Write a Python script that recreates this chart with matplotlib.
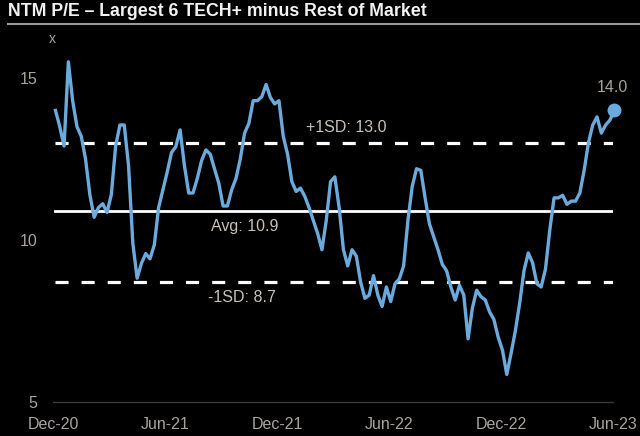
import matplotlib
matplotlib.use("Agg")
import matplotlib.pyplot as plt
import matplotlib.lines as mlines
import pandas as pd

# weekly NTM P/E spread, largest 6 tech+ minus rest of market
start_date = "2020-12-05"
pe_spread = [
    14.0, 13.5, 12.9, 15.5, 14.3, 13.5, 13.2, 12.5, 11.4, 10.7,
    11.0, 11.12, 10.85, 11.4, 12.9, 13.55, 13.55, 12.3, 9.9, 8.82,
    9.28, 9.58, 9.42, 9.85, 11.0, 11.55, 12.1, 12.7, 12.88, 13.4,
    12.3, 11.45, 11.45, 11.9, 12.45, 12.78, 12.65, 12.2, 11.75, 11.05,
    11.05, 11.55, 11.9, 12.5, 13.3, 13.6, 14.3, 14.3, 14.42, 14.8,
    14.4, 14.2, 14.3, 13.2, 12.65, 11.8, 11.5, 11.6, 11.35, 11.0,
    10.6, 10.2, 9.7, 10.6, 11.8, 11.95, 11.0, 9.7, 9.2, 9.7,
    9.5, 8.7, 8.2, 8.3, 8.9, 8.3, 7.95, 8.55, 8.1, 8.65,
    8.8, 9.2, 10.6, 11.65, 12.2, 12.15, 11.3, 10.5, 10.1, 9.7,
    9.25, 9.05, 8.55, 8.15, 8.6, 8.3, 6.95, 7.9, 8.45, 8.25,
    8.15, 7.78, 7.55, 7.0, 6.6, 5.85, 6.5, 7.2, 8.05, 9.05,
    9.6, 9.3, 8.65, 8.55, 9.1, 10.3, 11.3, 11.3, 11.38, 11.1,
    11.2, 11.2, 11.45, 12.15, 13.0, 13.55, 13.8, 13.3, 13.55, 13.7,
    14.0,
]
avg_val = 10.9
plus_sd = 13.0
minus_sd = 8.7
tick_dates = ["2020-12-01", "2021-06-01", "2021-12-01", "2022-06-01", "2022-12-01", "2023-06-01"]
tick_labels = ["Dec-20", "Jun-21", "Dec-21", "Jun-22", "Dec-22", "Jun-23"]
y_ticks = [5, 10, 15]

dates = pd.date_range(start=start_date, periods=len(pe_spread), freq="7D")
tick_pos = pd.to_datetime(tick_dates)

plt.rcParams["font.family"] = ["Liberation Sans", "DejaVu Sans"]
plt.rcParams["lines.scale_dashes"] = False

bg = "black"
line_blue = "#6aaadc"
tick_col = "#aaa39b"
note_col = "#c9c1b8"

fig = plt.figure(figsize=(6.4, 4.36), dpi=100, facecolor=bg)
ax = fig.add_axes([53 / 640, 34 / 436, 560 / 640, 356.4 / 436], facecolor=bg)

# reference lines
x0, x1 = dates[0], dates[-1]
ax.plot([x0, x1], [plus_sd, plus_sd], color="white", lw=2.3, dashes=(9.4, 9.4))
ax.plot([x0, x1], [minus_sd, minus_sd], color="white", lw=2.3, dashes=(9.4, 9.4))
ax.plot([x0, x1], [avg_val, avg_val], color="white", lw=2.0)

ax.plot(dates, pe_spread, color=line_blue, lw=2.4, zorder=3, clip_on=False)
ax.plot(dates[-1], pe_spread[-1], "o", color=line_blue, ms=9, zorder=4, clip_on=False)

ax.set_xlim(tick_pos[0], tick_pos[-1])
ax.set_ylim(5, 16)
ax.set_xticks(tick_pos)
ax.set_xticklabels(tick_labels)
ax.set_yticks(y_ticks)
ax.tick_params(axis="both", length=0, colors=tick_col, labelsize=11.5)
ax.tick_params(axis="x", pad=11)
ax.tick_params(axis="y", pad=11.5)
for s in ["top", "right", "left"]:
    ax.spines[s].set_visible(False)
ax.spines["bottom"].set_color("#3a3a3a")
ax.spines["bottom"].set_linewidth(1)

# labels on lines
ax.text(0.523, plus_sd + 0.25, "+1SD: 13.0", transform=ax.get_yaxis_transform(),
        color=note_col, fontsize=11.5, ha="center", va="bottom")
ax.text(0.343, avg_val - 0.25, "Avg: 10.9", transform=ax.get_yaxis_transform(),
        color=note_col, fontsize=11.5, ha="center", va="top")
ax.text(0.338, minus_sd - 0.25, "-1SD: 8.7", transform=ax.get_yaxis_transform(),
        color=note_col, fontsize=11.5, ha="center", va="top")
ax.annotate("14.0", (dates[-1], pe_spread[-1]), xytext=(-1, 11), textcoords="offset points",
            color=tick_col, fontsize=11.5, ha="center", va="bottom", annotation_clip=False)

# title and unit
fig.text(8 / 640, 1 - 12 / 436, "NTM P/E \u2013 Largest 6 TECH+ minus Rest of Market",
         color="#f2f2f2", fontsize=12.8, fontweight="bold", ha="left", va="center")
fig.add_artist(mlines.Line2D([8 / 640, 1.0], [1 - 24 / 436, 1 - 24 / 436],
                             color="#9a9a9a", lw=1.5, transform=fig.transFigure))
fig.text(52 / 640, 1 - 39 / 436, "x", color=tick_col, fontsize=10, ha="center", va="center")

fig.savefig("out.png", dpi=100, facecolor=bg)
